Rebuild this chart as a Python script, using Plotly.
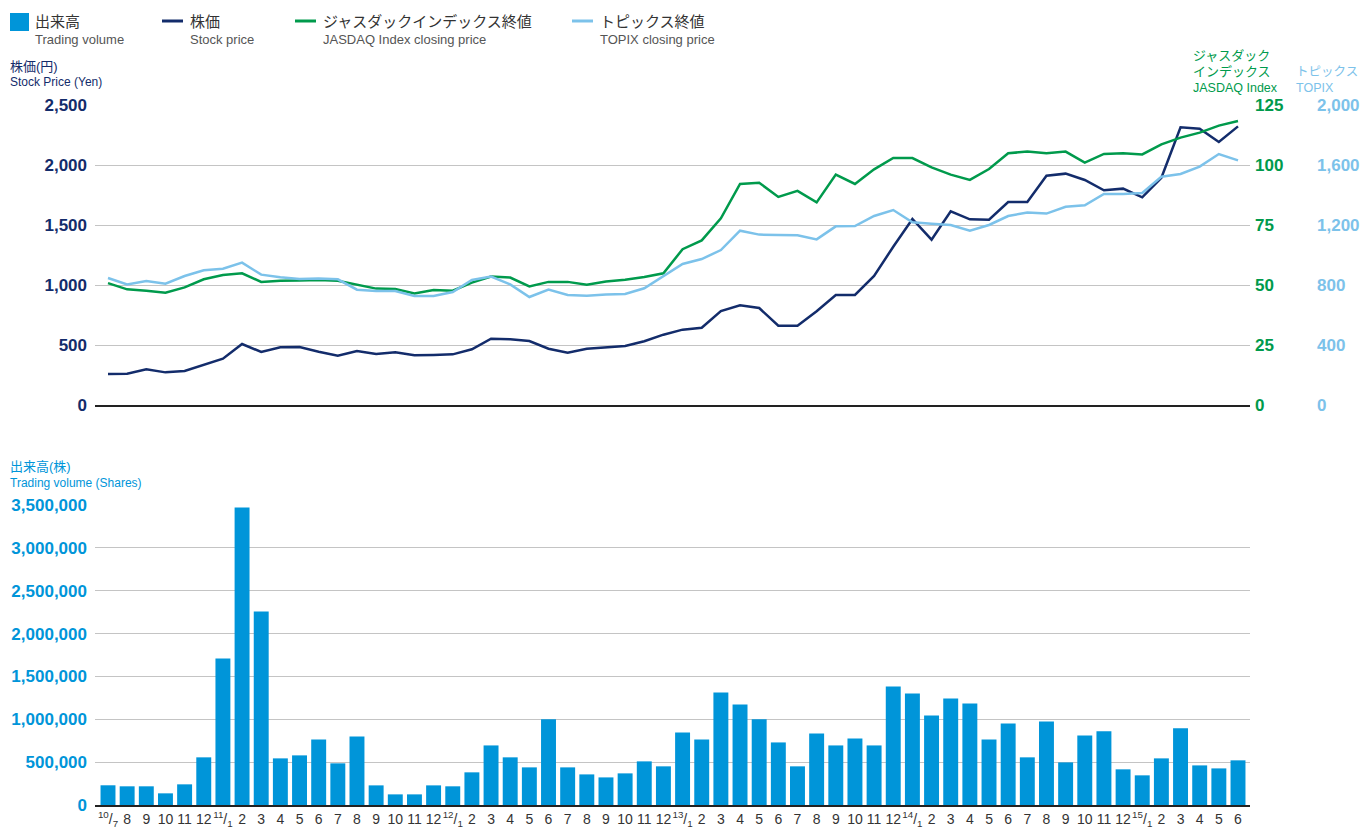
import plotly.graph_objects as go

W, H = 1362, 828

periods = [
    "2010/07", "2010/08", "2010/09", "2010/10", "2010/11", "2010/12",
    "2011/01", "2011/02", "2011/03", "2011/04", "2011/05", "2011/06",
    "2011/07", "2011/08", "2011/09", "2011/10", "2011/11", "2011/12",
    "2012/01", "2012/02", "2012/03", "2012/04", "2012/05", "2012/06",
    "2012/07", "2012/08", "2012/09", "2012/10", "2012/11", "2012/12",
    "2013/01", "2013/02", "2013/03", "2013/04", "2013/05", "2013/06",
    "2013/07", "2013/08", "2013/09", "2013/10", "2013/11", "2013/12",
    "2014/01", "2014/02", "2014/03", "2014/04", "2014/05", "2014/06",
    "2014/07", "2014/08", "2014/09", "2014/10", "2014/11", "2014/12",
    "2015/01", "2015/02", "2015/03", "2015/04", "2015/05", "2015/06",
]

tick_labels = [
    "<sup>10</sup>/<sub>7</sub>", "8", "9", "10", "11", "12",
    "<sup>11</sup>/<sub>1</sub>", "2", "3", "4", "5", "6", "7", "8", "9", "10", "11", "12",
    "<sup>12</sup>/<sub>1</sub>", "2", "3", "4", "5", "6", "7", "8", "9", "10", "11", "12",
    "<sup>13</sup>/<sub>1</sub>", "2", "3", "4", "5", "6", "7", "8", "9", "10", "11", "12",
    "<sup>14</sup>/<sub>1</sub>", "2", "3", "4", "5", "6", "7", "8", "9", "10", "11", "12",
    "<sup>15</sup>/<sub>1</sub>", "2", "3", "4", "5", "6",
]

stock_price = [258, 261, 297, 272, 283, 333, 386, 508, 442, 481, 483, 444, 411, 450, 425, 439,
               414, 417, 422, 464, 553, 547, 533, 469, 436, 469, 478, 492, 531, 586, 628,
               644, 783, 831, 808, 661, 661, 781, 917, 917, 1075, 1319, 1550, 1378, 1614, 1547,
               1544, 1692, 1692, 1911, 1928, 1875, 1789, 1803, 1731, 1894, 2314, 2303, 2192, 2322]

jasdaq_index = [50.8, 48.2, 47.6, 46.8, 49.0, 52.4, 54.2, 54.9, 51.3, 51.8, 51.9, 52.1, 51.8, 50.3, 48.5, 48.3,
                46.5, 47.9, 47.6, 51.0, 53.5, 53.1, 49.4, 51.3, 51.3, 50.1, 51.5, 52.2, 53.3, 54.9, 64.9,
                68.6, 77.8, 92.1, 92.6, 86.7, 89.2, 84.4, 96.0, 92.1, 98.2, 102.9, 102.9, 99.0, 96.0, 93.8,
                98.3, 104.9, 105.6, 104.9, 105.6, 101.0, 104.6, 104.9, 104.4, 108.6, 111.4, 113.5, 116.4, 118.3]

topix = [847, 804, 827, 809, 860, 898, 909, 949, 869, 851, 840, 844, 838, 769, 760, 760,
         727, 727, 753, 833, 856, 804, 720, 769, 733, 729, 736, 740, 778, 860, 940,
         973, 1033, 1162, 1136, 1133, 1131, 1104, 1191, 1193, 1260, 1300, 1218, 1209, 1200, 1162,
         1200, 1260, 1284, 1276, 1322, 1331, 1407, 1407, 1413, 1522, 1540, 1589, 1673, 1631]

trading_volume = [230000, 218000, 218000, 136000, 241000, 556000,
                  1710000, 3470000, 2257000, 544000, 579000, 765000, 486000, 800000, 229000, 124000, 124000, 229000,
                  218000, 381000, 695000, 556000, 439000, 1000000, 439000, 357000, 322000, 369000, 509000, 451000,
                  847000, 765000, 1313000, 1173000, 1000000, 730000, 451000, 835000, 695000, 777000, 695000, 1383000,
                  1301000, 1045000, 1243000, 1185000, 765000, 952000, 556000, 975000, 497000, 812000, 859000, 416000,
                  346000, 544000, 894000, 462000, 427000, 521000]

C_BAR = "#0095d9"
C_STOCK = "#132c6b"
C_JAS = "#009a4c"
C_TOPIX = "#7cc2ea"
C_GRID = "#c4c4c4"
FONT = "Liberation Sans Narrow, Liberation Sans, Arial, Noto Sans CJK JP, sans-serif"
JFONT = "Liberation Sans, Arial, Noto Sans CJK JP, sans-serif"


def fx(x):
    return x / W


def fy(y):
    return 1 - y / H


X0, X1 = 95, 1250
xdom = [fx(X0), fx(X1)]
step = (1238 - 108) / 59
xr = [-(108 - X0) / step, 59 + (X1 - 1238) / step]

fig = go.Figure()

fig.add_trace(go.Scatter(x=periods, y=topix, mode="lines", line=dict(color=C_TOPIX, width=2.5),
                         xaxis="x", yaxis="y3", name="TOPIX"))
fig.add_trace(go.Scatter(x=periods, y=jasdaq_index, mode="lines", line=dict(color=C_JAS, width=2.5),
                         xaxis="x", yaxis="y2", name="JASDAQ"))
fig.add_trace(go.Scatter(x=periods, y=stock_price, mode="lines", line=dict(color=C_STOCK, width=2.5),
                         xaxis="x", yaxis="y", name="株価"))
fig.add_trace(go.Bar(x=periods, y=trading_volume, marker=dict(color=C_BAR, line=dict(width=0)),
                     xaxis="x2", yaxis="y4", name="出来高"))

fig.update_layout(
    width=W, height=H,
    margin=dict(l=0, r=0, t=0, b=0, pad=0),
    paper_bgcolor="white", plot_bgcolor="white",
    showlegend=False,
    bargap=0.22,
    xaxis=dict(domain=xdom, anchor="y", type="category", range=xr, showticklabels=False, automargin=False,
               showgrid=False, showline=True, linecolor="#222222", linewidth=2, ticks="", zeroline=False),
    yaxis=dict(domain=[fy(405), fy(105)], range=[0, 2500], dtick=500, tickformat=",d", automargin=False,
               showgrid=True, gridcolor=C_GRID, gridwidth=1, zeroline=False, ticks="",
               ticklabelstandoff=7, tickfont=dict(family=FONT, size=17, color=C_STOCK, weight="bold")),
    yaxis2=dict(overlaying="y", side="right", anchor="x", range=[0, 125], dtick=25, automargin=False,
                showgrid=False, zeroline=False, ticks="", ticklabelstandoff=4,
                tickfont=dict(family=FONT, size=17, color=C_JAS, weight="bold")),
    yaxis3=dict(overlaying="y", side="right", anchor="free", position=fx(1311), range=[0, 2000], dtick=400,
                tickformat=",d", showgrid=False, zeroline=False, showline=False, ticks="", ticklabelstandoff=5,
                automargin=False, tickfont=dict(family=FONT, size=17, color=C_TOPIX, weight="bold")),
    xaxis2=dict(domain=xdom, anchor="y4", type="category", range=xr, tickmode="array", automargin=False,
                tickvals=periods, ticktext=tick_labels, showgrid=False, showline=True,
                linecolor="#222222", linewidth=2, ticks="", zeroline=False, tickangle=0,
                tickfont=dict(family=FONT, size=14, color="#333333")),
    yaxis4=dict(domain=[fy(805), fy(505)], range=[0, 3500000], dtick=500000, tickformat=",d", automargin=False,
                showgrid=True, gridcolor=C_GRID, gridwidth=1, zeroline=False, ticks="",
                ticklabelstandoff=7, tickfont=dict(family=FONT, size=17, color=C_BAR, weight="bold")),
)

anns = []


def text(x, y, s, color, size, weight="normal"):
    anns.append(dict(x=fx(x), y=fy(y), xref="paper", yref="paper", text=s, showarrow=False,
                     xanchor="left", yanchor="middle", align="left",
                     font=dict(family=JFONT, size=size, color=color, weight=weight)))


# legend
text(33, 21, "出来高", "#333333", 15)
text(33, 40, "Trading volume", "#555555", 13)
text(188, 21, "株価", "#333333", 15)
text(188, 40, "Stock price", "#555555", 13)
text(321, 21, "ジャスダックインデックス終値", "#333333", 15)
text(321, 40, "JASDAQ Index closing price", "#555555", 13)
text(598, 21, "トピックス終値", "#333333", 15)
text(598, 40, "TOPIX closing price", "#555555", 13)

# axis titles
text(8, 66, "株価(円)", C_STOCK, 13)
text(8, 82, "Stock Price (Yen)", C_STOCK, 12)
text(1191, 56, "ジャスダック", C_JAS, 13)
text(1191, 72, "インデックス", C_JAS, 13)
text(1191, 88, "JASDAQ Index", C_JAS, 12.5)
text(1294, 72, "トピックス", C_TOPIX, 12.5)
text(1294, 88, "TOPIX", C_TOPIX, 12.5)
text(8, 467, "出来高(株)", C_BAR, 13)
text(8, 483, "Trading volume (Shares)", C_BAR, 12)

fig.update_layout(annotations=anns)

shapes = [
    dict(type="rect", xref="paper", yref="paper", x0=fx(10), x1=fx(29), y0=fy(31), y1=fy(13),
         fillcolor=C_BAR, line=dict(width=0)),
    dict(type="line", xref="paper", yref="paper", x0=fx(162), x1=fx(183), y0=fy(21), y1=fy(21),
         line=dict(color=C_STOCK, width=3)),
    dict(type="line", xref="paper", yref="paper", x0=fx(295), x1=fx(316), y0=fy(21), y1=fy(21),
         line=dict(color=C_JAS, width=3)),
    dict(type="line", xref="paper", yref="paper", x0=fx(572), x1=fx(593), y0=fy(21), y1=fy(21),
         line=dict(color=C_TOPIX, width=3)),
]
fig.update_layout(shapes=shapes)

fig.write_html("out.html", config={"displayModeBar": False},
               post_script="document.body.style.margin='0';document.body.style.overflow='hidden';")
